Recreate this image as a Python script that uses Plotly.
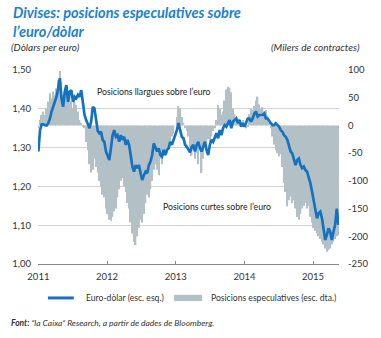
import pandas as pd
import plotly.graph_objects as go

# ---- data ----
start_date = "2011-01-01"
end_date = "2015-05-16"

eurusd = [
    1.290, 1.345, 1.360, 1.360, 1.358, 1.357, 1.363, 1.375, 1.393, 1.405,
    1.418, 1.431, 1.453, 1.479, 1.427, 1.405, 1.444, 1.461, 1.418, 1.444,
    1.448, 1.418, 1.431, 1.427, 1.436, 1.431, 1.448, 1.418, 1.384, 1.371,
    1.358, 1.350, 1.367, 1.405, 1.401, 1.375, 1.343, 1.337, 1.341, 1.320,
    1.315, 1.290, 1.277, 1.268, 1.298, 1.332, 1.345, 1.328, 1.332, 1.315,
    1.332, 1.320, 1.328, 1.307, 1.320, 1.307, 1.281, 1.251, 1.238, 1.255,
    1.247, 1.255, 1.234, 1.216, 1.229, 1.238, 1.234, 1.255, 1.264, 1.281,
    1.311, 1.302, 1.290, 1.298, 1.281, 1.277, 1.294, 1.281, 1.294, 1.298,
    1.315, 1.307, 1.320, 1.328, 1.345, 1.363, 1.345, 1.328, 1.324, 1.307,
    1.302, 1.294, 1.288, 1.302, 1.307, 1.290, 1.307, 1.315, 1.298, 1.290,
    1.302, 1.315, 1.294, 1.281, 1.307, 1.320, 1.315, 1.328, 1.337, 1.324,
    1.345, 1.332, 1.350, 1.358, 1.354, 1.363, 1.371, 1.350, 1.367, 1.371,
    1.375, 1.363, 1.371, 1.354, 1.363, 1.354, 1.367, 1.375, 1.375, 1.367,
    1.375, 1.388, 1.393, 1.380, 1.384, 1.384, 1.384, 1.388, 1.375, 1.375,
    1.367, 1.363, 1.358, 1.358, 1.363, 1.358, 1.354, 1.345, 1.341, 1.332,
    1.328, 1.320, 1.302, 1.290, 1.285, 1.272, 1.255, 1.268, 1.272, 1.255,
    1.247, 1.251, 1.242, 1.238, 1.225, 1.208, 1.186, 1.161, 1.135, 1.118,
    1.131, 1.135, 1.118, 1.088, 1.062, 1.075, 1.092, 1.083, 1.062, 1.083,
    1.101, 1.143, 1.101,
]

positions = [
    -5, 10, 19, 25, 19, 31, 43, 58, 49, 61,
    55, 67, 82, 98, 79, 55, 67, 70, 49, 58,
    43, 31, 49, 37, 25, 10, 5, -3, -5, -30,
    -45, -70, -85, -80, -60, -75, -85, -100, -110, -125,
    -130, -150, -160, -170, -172, -165, -155, -150, -130, -115,
    -100, -95, -110, -120, -140, -150, -175, -195, -210, -216,
    -200, -185, -170, -175, -160, -140, -125, -130, -115, -100,
    -80, -70, -80, -90, -60, -70, -55, -45, -50, -40,
    -30, -20, -15, 0, 15, 35, 30, 15, 5, -5,
    -10, -20, -40, -55, -45, -60, -50, -70, -40, -86,
    -60, -30, -40, -25, -30, -20, -10, -5, 10, 37,
    30, 20, 25, 45, 65, 70, 68, 60, 30, 20,
    15, 8, 12, 5, 10, 0, -5, -3, 20, 30,
    28, 35, 45, 52, 38, 30, 33, 25, 28, 18,
    5, -5, -20, -35, -45, -50, -56, -52, -75, -104,
    -120, -146, -135, -128, -140, -135, -150, -165, -170, -160,
    -150, -145, -140, -150, -145, -165, -175, -185, -190, -195,
    -200, -205, -210, -215, -222, -228, -225, -222, -215, -210,
    -205, -200, -198,
]

year_ticks = ["2011-01-01", "2012-01-01", "2013-01-01", "2014-01-01", "2015-01-01"]
year_labels = ["2011", "2012", "2013", "2014", "2015"]
left_ticks = [1.0, 1.1, 1.2, 1.3, 1.4, 1.5]
right_ticks = [-250, -200, -150, -100, -50, 0, 50, 100]
right_labels = ["-250", "-200", "-150", "-100", "-50", "0", "50", "100"]

dates = pd.date_range(start_date, end_date, periods=len(eurusd))

BLUE = "#1472c0"
GREY = "#b3c1c6"
TITLE_BLUE = "#1a82d2"
FONT = "Lato"
TXT = "#333333"

fig = go.Figure()
fig.add_trace(go.Bar(
    x=dates, y=positions, marker=dict(color=GREY, line=dict(width=0)),
    name="Posicions especulatives (esc. dta.)", yaxis="y", showlegend=False,
))
fig.add_trace(go.Scatter(
    x=dates, y=eurusd, mode="lines", line=dict(color=BLUE, width=2.7),
    name="Euro-dòlar (esc. esq.)", yaxis="y2", showlegend=False,
))

fig.update_layout(
    width=381, height=338,
    margin=dict(l=37, r=41, t=70, b=74),
    paper_bgcolor="white", plot_bgcolor="white",
    separators=", ",
    bargap=0.12,
    font=dict(family=FONT, size=9.5, color=TXT),
    xaxis=dict(
        type="date", range=["2010-12-30", "2015-05-19"],
        tickvals=year_ticks, ticktext=year_labels,
        ticks="inside", ticklen=3, tickcolor="#888888",
        showline=True, linecolor="#888888", linewidth=1,
        showgrid=False, zeroline=False, ticklabelstandoff=4,
        tickfont=dict(size=9.5, color=TXT),
    ),
    yaxis=dict(
        side="right", range=[-250, 100],
        tickvals=right_ticks, ticktext=right_labels,
        showgrid=False, zeroline=False, ticks="",
        ticklabelstandoff=8,
        tickfont=dict(size=9.5, color=TXT),
    ),
    yaxis2=dict(
        overlaying="y", side="left", range=[1.0, 1.5],
        tickvals=left_ticks, tickformat=".2f",
        showgrid=True, gridcolor="#d3d3d3", gridwidth=1,
        zeroline=False, ticks="", ticklabelstandoff=6,
        tickfont=dict(size=9.5, color=TXT),
    ),
)

def ann(text, x, y, xanchor="left", size=9.5, color=TXT, yanchor="middle"):
    fig.add_annotation(text=text, x=x, y=y, xref="paper", yref="paper",
                       xanchor=xanchor, yanchor=yanchor, showarrow=False,
                       align="left",
                       font=dict(family=FONT, size=size, color=color))

# title and axis captions
ann("<b><i>Divises: posicions especulatives sobre<br>l’euro/dòlar</i></b>",
    -0.089, 1.3505, size=14.5, color=TITLE_BLUE, yanchor="top")
ann("<i>(Dòlars per euro)</i>", -0.096, 1.1186, size=10)
ann("<i>(Milers de contractes)</i>", 1.076, 1.1186, xanchor="right", size=10)

# in-plot labels
ann("Posicions llargues sobre l’euro", 0.191, 0.887, size=8.7, color="#222222")
ann("Posicions curtes sobre l’euro", 0.409, 0.294, size=8.7, color="#222222")

# legend
fig.add_shape(type="line", xref="paper", yref="paper", x0=0.033, x1=0.119,
              y0=-0.175, y1=-0.175, line=dict(color=BLUE, width=3))
ann("Euro-dòlar (esc. esq.)", 0.152, -0.175, size=8.6)
fig.add_shape(type="rect", xref="paper", yref="paper", x0=0.452, x1=0.545,
              y0=-0.159, y1=-0.191, line=dict(width=0), fillcolor=GREY)
ann("Posicions especulatives (esc. dta.)", 0.568, -0.175, size=8.6)

# source
ann("<b><i>Font:</i></b><i> “la Caixa” Research, a partir de dades de Bloomberg.</i>",
    -0.096, -0.304, size=8.5)

fig.write_html("out.html")
